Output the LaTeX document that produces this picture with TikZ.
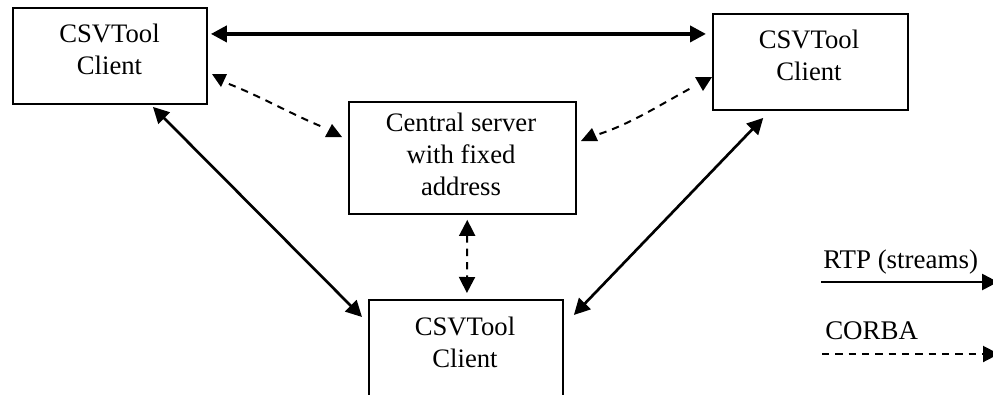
\documentclass[tikz,border=0pt]{standalone}
\usepackage{fontspec}
\setmainfont{Liberation Serif}
\usetikzlibrary{arrows.meta}
\tikzset{
  x=0.75pt,y=-0.75pt,
  boxnode/.style={draw,line width=1.4pt,inner sep=0pt,anchor=north west},
  textnode/.style={inner sep=0pt,align=center,font=\fontsize{20}{24}\selectfont},
  labelnode/.style={inner sep=0pt,anchor=base west,font=\fontsize{20.2}{24}\selectfont},
  tipped/.style={-{Triangle[length=12pt,width=12pt]}},
  both/.style={{Triangle[length=12pt,width=12pt]}-{Triangle[length=12pt,width=12pt]}},
  thickline/.style={both,line width=2.8pt},
  solidline/.style={both,line width=2pt},
  dashes/.style={line width=1.5pt,dash pattern=on 5.5pt off 4.5pt},
  headfill/.style={fill=black},
}
\begin{document}
\begin{tikzpicture}
\useasboundingbox (0,0) rectangle (993,394);
\clip (0,0) rectangle (993,394);
\node[boxnode,minimum width=145.5pt,minimum height=72pt] (tl) at (12,7) {};
\node[textnode] (tlt) at (109.5,49.5) {CSVTool\\Client};
\node[boxnode,minimum width=146pt,minimum height=72pt] (tr) at (712,13) {};
\node[textnode] (trt) at (809,55.5) {CSVTool\\Client};
\node[boxnode,minimum width=170pt,minimum height=84pt] (cs) at (348,101) {};
\node[textnode] (cst) at (461,154.5) {Central server\\with fixed\\address};
\node[boxnode,minimum width=145.5pt,minimum height=84pt] (bt) at (368,299) {};
\node[textnode] (btt) at (465,342.5) {CSVTool\\Client};
% solid connectors
\draw[thickline] ([shift={(3,-22)}]tl.east) -- ([shift={(-6,-28)}]tr.west);
\draw[solidline] ([shift={(43,2)}]tl.south) -- ([shift={(-6,18)}]bt.north west);
\draw[solidline] ([shift={(10,16)}]bt.north east) -- ([shift={(-47,7)}]tr.south);
% dashed connectors
\draw[dashes] ([shift={(21,28)}]tl.east) .. controls (262,97) and (295,116) .. ([shift={(-23,-30)}]cs.west);
\fill[headfill] (212,74) -- (227,74) -- (221,87) -- cycle;
\fill[headfill] (325,137) -- (342,137) -- (332,124) -- cycle;
\draw[dashes] ([shift={(23,-24)}]cs.east) .. controls (630,124) and (660,105) .. ([shift={(-19,25)}]tr.west);
\fill[headfill] (695,77) -- (712,77) -- (703,91) -- cycle;
\fill[headfill] (581,141) -- (598,141) -- (592,128) -- cycle;
\draw[both,dashes] ([shift={(5,5)}]cs.south) -- ([shift={(1,-6)}]bt.north);
% legend
\coordinate (rtpa) at (821,282);
\coordinate (rtpb) at (998,282);
\coordinate (corbaa) at (822,354);
\coordinate (corbab) at (999,354);
\draw[tipped,line width=2pt] (rtpa) -- (rtpb);
\draw[tipped,dashes] (corbaa) -- (corbab);
\node[labelnode] (rtp) at (823,268) {RTP (streams)};
\node[labelnode] (corba) at (825,339.5) {CORBA};
\end{tikzpicture}
\end{document}
